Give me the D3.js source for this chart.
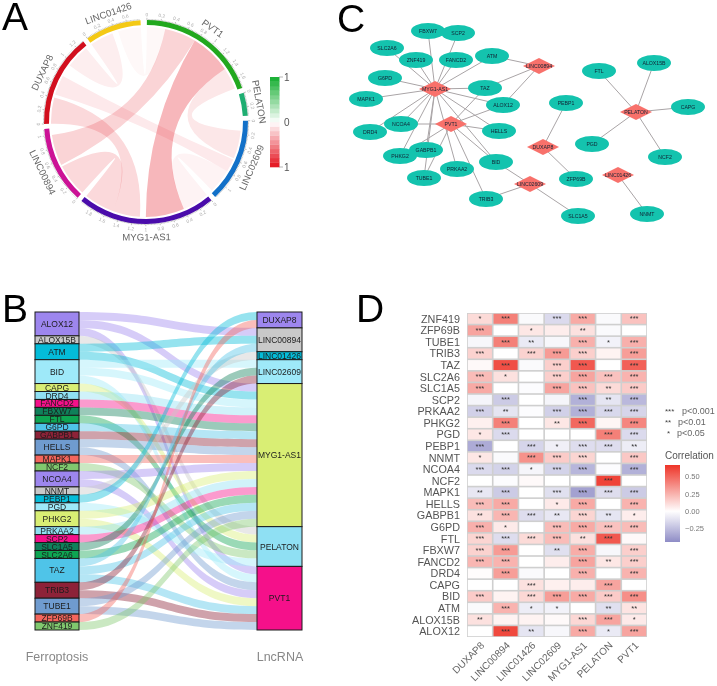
<!DOCTYPE html>
<html><head><meta charset="utf-8">
<script src="https://cdn.jsdelivr.net/npm/d3@7/dist/d3.min.js"></script>
<style>html,body{margin:0;padding:0;background:#fff}svg{display:block;font-family:"Liberation Sans",Arial,sans-serif}</style>
</head><body><svg id="c" width="717" height="686"></svg>
<script>
// ---------- A: chord ----------
const chordSectors = ["PVT1","PELATON","LINC02609","MYG1-AS1","LINC00894","DUXAP8","LINC01426"];
const chordTotals  = [1.75,0.33,1.2,1.98,1.1,1.33,0.8];
const chordColors  = ["#22a81e","#1fae72","#1270c8","#4a0cab","#cc1296","#d20f1e","#f4c915"];
// source sector, from, to, target sector, from, to, correlation
const chordLinks = [
 ["PVT1",0.0,0.28,"LINC01426",0.45,0.8,-0.03],
 ["DUXAP8",0.94,1.3,"LINC01426",0,0.36,-0.07],
 ["PVT1",1.39,1.72,"LINC02609",0.15,0.58,-0.1],
 ["DUXAP8",0.45,0.75,"LINC02609",0.6,0.8,-0.09],
 ["LINC02609",0.8,1.17,"MYG1-AS1",0,0.41,-0.05],
 ["DUXAP8",0,0.4,"MYG1-AS1",1.09,1.5,-0.16],
 ["LINC00894",0,0.5,"MYG1-AS1",1.5,1.97,-0.16],
 ["PVT1",0.28,0.76,"LINC00894",0.525,1.0,-0.18],
 ["PVT1",0.76,1.39,"MYG1-AS1",0.41,1.0,-0.3]
];
// ---------- B: alluvial ----------
const genes = ["ALOX12","ALOX15B","ATM","BID","CAPG","DRD4","FANCD2","FBXW7","FTL","G6PD","GABPB1","HELLS","MAPK1","NCF2","NCOA4","NNMT","PEBP1","PGD","PHKG2","PRKAA2","SCP2","SLC1A5","SLC2A6","TAZ","TRIB3","TUBE1","ZFP69B","ZNF419"];
const lncs = ["DUXAP8","LINC00894","LINC01426","LINC02609","MYG1-AS1","PELATON","PVT1"];
const palette = ["#9d86ee","#c9c9c9","#04bcd9","#9ee9f9","#d9ee74","#8fe0f3","#f5108a","#10805a","#0ea552","#4fc4e8","#8d2238","#6f9bcf","#f4655c","#80c86e"];
const pairs = [
 ["ALOX12","LINC00894"],["ALOX12","MYG1-AS1"],["ALOX12","PVT1"],["ALOX15B","PELATON"],["ATM","LINC00894"],["ATM","MYG1-AS1"],
 ["BID","LINC02609"],["BID","MYG1-AS1"],["BID","PVT1"],["CAPG","PELATON"],["DRD4","MYG1-AS1"],["FANCD2","MYG1-AS1"],["FBXW7","MYG1-AS1"],
 ["FTL","PELATON"],["G6PD","MYG1-AS1"],["GABPB1","MYG1-AS1"],["HELLS","MYG1-AS1"],["HELLS","PVT1"],["MAPK1","MYG1-AS1"],["NCF2","PELATON"],
 ["NCOA4","MYG1-AS1"],["NCOA4","PVT1"],["NNMT","LINC01426"],["PEBP1","DUXAP8"],["PGD","PELATON"],["PHKG2","MYG1-AS1"],["PHKG2","PVT1"],
 ["PRKAA2","MYG1-AS1"],["SCP2","MYG1-AS1"],["SLC1A5","LINC02609"],["SLC2A6","MYG1-AS1"],["TAZ","LINC00894"],["TAZ","MYG1-AS1"],["TAZ","PVT1"],
 ["TRIB3","LINC02609"],["TRIB3","PVT1"],["TUBE1","MYG1-AS1"],["TUBE1","PVT1"],["ZFP69B","DUXAP8"],["ZNF419","MYG1-AS1"]
];
// ---------- C: network ----------
const netGenes = [["FBXW7",98,31],["SCP2",128,33],["SLC2A6",57,48],["ZNF419",86,60],["FANCD2",126,60],["ATM",162,56],["G6PD",55,78],["TAZ",155,88],["MAPK1",36,99],["ALOX12",173,105],["NCOA4",71,124],["DRD4",40,132],["HELLS",169,131],["GABPB1",96,150],["PHKG2",70,156],["BID",166,162],["PRKAA2",127,169],["TUBE1",94,178],["TRIB3",156,199],["SLC1A5",248,216],["PEBP1",236,103],["ZFP69B",246,179],["FTL",269,71],["ALOX15B",324,63],["CAPG",358,107],["PGD",262,144],["NCF2",335,157],["NNMT",317,214]];
const netLncs = [["LINC00894",209,66],["MYG1-AS1",105,89],["PVT1",121,124],["LINC02609",200,184],["DUXAP8",213,147],["PELATON",306,112],["LINC01426",288,175]];
// ---------- D: heatmap ----------
const heatRows = ["ZNF419","ZFP69B","TUBE1","TRIB3","TAZ","SLC2A6","SLC1A5","SCP2","PRKAA2","PHKG2","PGD","PEBP1","NNMT","NCOA4","NCF2","MAPK1","HELLS","GABPB1","G6PD","FTL","FBXW7","FANCD2","DRD4","CAPG","BID","ATM","ALOX15B","ALOX12"];
const heatVals = [
[.12,.42,-.02,-.14,.28,-.02,.2],[.3,0,.08,.06,.1,-.02,0],[-.03,.42,-.08,-.03,.26,-.05,.26],[.15,0,.15,.33,.16,.04,.32],
[.02,.58,-.02,.16,.55,0,.52],[.22,.1,0,.16,.3,.2,.25],[.28,0,-.01,.3,.2,.12,.17],[-.04,-.2,0,-.04,-.3,-.1,-.27],
[-.18,-.1,-.01,-.18,-.3,-.15,-.16],[.05,.42,0,.08,.5,.03,.4],[.08,-.14,0,0,0,.42,-.14],[-.32,0,-.16,-.06,-.13,-.13,-.07],
[.08,-.02,.36,.17,.14,0,.18],[-.14,-.17,-.04,-.17,-.28,-.01,-.3],[0,-.01,.02,0,0,.62,0],[-.09,-.2,0,-.12,-.36,-.13,-.2],
[.22,.28,0,.07,.28,0,.25],[.1,.24,-.13,-.09,.14,-.1,.06],[.26,.07,0,.22,.28,.2,.22],[.14,-.13,.12,.22,.1,.55,.02],
[.15,.33,0,-.12,.27,-.03,.16],[.24,.25,0,.06,.3,.08,.16],[.01,.32,-.02,0,.26,0,.25],[0,0,.1,.05,.06,.3,0],
[.17,.04,.13,.32,.28,.17,.37],[-.02,.25,-.07,-.05,0,-.12,.09],[.1,.04,.04,.02,.13,.3,.07],[0,.6,-.1,-.03,.28,-.08,.3]];
const heatStars = [
[1,3,0,3,3,0,3],[3,0,1,0,2,0,0],[0,3,2,0,3,1,3],[3,0,3,3,3,0,3],[0,3,0,3,3,0,3],[3,1,0,3,3,3,3],[3,0,0,3,3,2,3],[0,3,0,0,3,2,3],
[3,2,0,3,3,3,3],[0,3,0,2,3,0,3],[1,3,0,0,0,3,3],[3,0,3,1,3,3,2],[1,0,3,3,3,0,3],[3,3,1,3,3,0,3],[0,0,0,0,0,3,0],[2,3,0,3,3,3,3],
[3,3,0,1,3,0,3],[2,3,3,2,3,2,1],[3,1,0,3,3,3,3],[3,3,3,3,2,3,0],[3,3,0,2,3,0,3],[3,3,0,0,3,2,3],[0,3,0,0,3,0,3],[0,0,3,0,0,3,0],
[3,0,3,3,3,3,3],[0,3,1,1,0,2,2],[2,0,0,0,3,3,1],[0,3,2,0,3,1,3]];
const legendBreaks = [0.5,0.25,0,-0.25];

const svg = d3.select("#c");
const gAll = svg.append("g").style("filter","blur(0.45px)");
const letters = [["A",2,30],["B",2,322],["C",337,32],["D",356,322]];
gAll.selectAll("text.l").data(letters).join("text").attr("class","l")
  .attr("x",d=>d[1]).attr("y",d=>d[2]).text(d=>d[0]).attr("font-size",39).attr("fill","#000");

// ========= A =========
(function(){
  const g = gAll.append("g").attr("transform","translate(146,122)");
  const rOut=102,rIn=97,rRib=95;
  const gap=2.8, unit=40; // degrees
  let a=0.5; const sec={};
  chordSectors.forEach((n,i)=>{
    const s=d3.scaleLinear().domain([0,chordTotals[i]]).range([a,a+chordTotals[i]*unit].map(v=>v*Math.PI/180));
    sec[n]={scale:s,color:chordColors[i],total:chordTotals[i]};
    a+=chordTotals[i]*unit+gap;
  });
  const col=d3.scaleLinear().domain([-1,0,1]).range(["#e4101c","#ffffff","#12ad2e"]);
  const ribbon=d3.ribbon().radius(rRib);
  g.selectAll("path.rib").data(chordLinks).join("path")
    .attr("d",d=>ribbon({source:{startAngle:sec[d[0]].scale(d[1]),endAngle:sec[d[0]].scale(d[2])},target:{startAngle:sec[d[3]].scale(d[4]),endAngle:sec[d[3]].scale(d[5])}}))
    .attr("fill",d=>col(d[6])).style("mix-blend-mode","multiply");
  const arc=d3.arc().innerRadius(rIn).outerRadius(rOut);
  chordSectors.forEach(n=>{
    const S=sec[n];
    g.append("path").attr("d",arc({startAngle:S.scale(0),endAngle:S.scale(S.total)})).attr("fill",S.color);
    const minor=d3.range(0,S.total,0.02);
    g.selectAll(null).data(minor).join("line")
      .attr("transform",v=>`rotate(${S.scale(v)*180/Math.PI})`)
      .attr("y1",-rOut).attr("y2",(v,i)=>-rOut-(i%10==0?2.2:1)).attr("stroke","#555").attr("stroke-width",.35);
    const maj=d3.range(0,S.total,0.2);
    g.selectAll(null).data(maj).join("text")
      .attr("transform",v=>{const d=S.scale(v)*180/Math.PI;return `rotate(${d}) translate(0,${-rOut-5.5})`+((d>90&&d<270)?" rotate(180)":"");})
      .attr("text-anchor","middle").attr("dy","0.35em").attr("font-size",4.8).attr("fill","#aaa")
      .text(v=>d3.format("~g")(+v.toFixed(1)));
    const mid=(S.scale(0)+S.scale(S.total))/2, dg=mid*180/Math.PI;
    const x=115*Math.sin(mid),y=-115*Math.cos(mid);
    const rot=(dg>90&&dg<270)?dg-180:dg;
    g.append("text").attr("transform",`translate(${x},${y}) rotate(${rot})`).attr("text-anchor","middle").attr("dy","0.35em")
      .attr("font-size",9.6).attr("fill","#666").text(n);
  });
  // legend
  const yL=d3.scaleLinear().domain([1,-1]).range([77,167]);
  gAll.selectAll("rect.lg").data(d3.range(-1,1,0.1)).join("rect").attr("class","lg")
    .attr("x",270).attr("width",9.5).attr("y",v=>yL(v+0.1)).attr("height",yL(0)-yL(0.1)+.3).attr("fill",v=>col(v+0.05));
  gAll.selectAll("text.lgt").data([[1,"1"],[0,"0"],[-1,"1"]]).join("text").attr("class","lgt")
    .attr("x",284).attr("y",d=>yL(d[0])).attr("dy","0.35em").attr("font-size",10).attr("fill","#555").text(d=>d[1]);
  gAll.selectAll("line.lgl").data([1,-1]).join("line").attr("class","lgl")
    .attr("x1",279).attr("x2",283).attr("y1",d=>yL(d)).attr("y2",d=>yL(d)).attr("stroke","#888").attr("stroke-width",.6);
})();

// ========= B =========
(function(){
  const y=d3.scaleLinear().domain([0,pairs.length]).range([312,630]);
  const xL=[35,79], xR=[257,302];
  const colL=d3.scaleOrdinal().domain(genes).range(palette);
  const colR=d3.scaleOrdinal().domain(lncs).range(palette);
  const layout=(names,idx)=>{let c=0,nodes={};names.forEach(n=>{const k=pairs.filter(p=>p[idx]===n).length;nodes[n]={start:c,end:c+k,pos:c};c+=k;});return nodes;};
  const L=layout(genes,0),R=layout(lncs,1);
  const flows=pairs.map(p=>{const a=L[p[0]].pos++,b=R[p[1]].pos++;return {g:p[0],a,b};});
  const xm=(xL[1]+xR[0])/2;
  const band=f=>{const p=d3.path();
    p.moveTo(xL[1],y(f.a));p.bezierCurveTo(xm,y(f.a),xm,y(f.b),xR[0],y(f.b));
    p.lineTo(xR[0],y(f.b+1));p.bezierCurveTo(xm,y(f.b+1),xm,y(f.a+1),xL[1],y(f.a+1));p.closePath();return p.toString();};
  gAll.append("g").selectAll("path").data(flows).join("path").attr("d",band)
    .attr("fill",d=>colL(d.g)).attr("fill-opacity",.42);
  const draw=(names,nodes,x,col)=>{
    const g=gAll.append("g").selectAll("g").data(names).join("g");
    g.append("rect").attr("x",x[0]).attr("width",x[1]-x[0]).attr("y",n=>y(nodes[n].start)).attr("height",n=>y(nodes[n].end)-y(nodes[n].start))
      .attr("fill",n=>col(n)).attr("stroke","#1a1a1a").attr("stroke-width",1);
    g.append("text").attr("x",(x[0]+x[1])/2).attr("y",n=>(y(nodes[n].start)+y(nodes[n].end))/2).attr("dy","0.36em")
      .attr("text-anchor","middle").attr("font-size",8.5).attr("fill","#1c1c1c").text(n=>n);
  };
  draw(genes,L,xL,colL);draw(lncs,R,xR,colR);
  gAll.selectAll("text.ax").data([["Ferroptosis",57],["LncRNA",280]]).join("text").attr("class","ax")
    .attr("x",d=>d[1]).attr("y",661).attr("text-anchor","middle").attr("font-size",12.5).attr("fill","#888").text(d=>d[0]);
})();

// ========= C =========
(function(){
  const X=d3.scaleLinear().domain([0,387]).range([330,717]), Y=d3.scaleLinear().domain([0,250]).range([0,250]);
  const pos={};netGenes.concat(netLncs).forEach(d=>pos[d[0]]=d);
  const g=gAll.append("g");
  g.selectAll("line").data(pairs).join("line")
    .attr("x1",d=>X(pos[d[0]][1])).attr("y1",d=>Y(pos[d[0]][2])).attr("x2",d=>X(pos[d[1]][1])).attr("y2",d=>Y(pos[d[1]][2]))
    .attr("stroke","#a9a4a6").attr("stroke-width",1);
  g.selectAll("ellipse").data(netGenes).join("ellipse").attr("cx",d=>X(d[1])).attr("cy",d=>Y(d[2])).attr("rx",17).attr("ry",8).attr("fill","#14c3ae");
  g.selectAll("path").data(netLncs).join("path").attr("transform",d=>`translate(${X(d[1])},${Y(d[2])})`)
    .attr("d","M-16,0L0,-8L16,0L0,8Z").attr("fill","#f8716b");
  g.selectAll("text").data(netGenes.concat(netLncs)).join("text").attr("x",d=>X(d[1])).attr("y",d=>Y(d[2])).attr("dy","0.35em")
    .attr("text-anchor","middle").attr("font-size",5.2).attr("fill","#123").text(d=>d[0]);
})();

// ========= D =========
(function(){
  const x=d3.scaleBand().domain(lncs).range([467,647]);
  const y=d3.scaleBand().domain(heatRows).range([313,637]);
  const col=d3.scaleLinear().domain([-0.44,0,0.67]).range(["#8e8cc6","#ffffff","#ee3428"]);
  const g=gAll.append("g");
  g.append("rect").attr("x",467).attr("y",313).attr("width",180).attr("height",324).attr("fill","#cfcfcf");
  const cells=[];heatRows.forEach((r,i)=>lncs.forEach((c,j)=>cells.push({r,c,v:heatVals[i][j],s:heatStars[i][j]})));
  g.selectAll("rect.c").data(cells).join("rect").attr("class","c")
    .attr("x",d=>x(d.c)+.8).attr("y",d=>y(d.r)+.8).attr("width",x.bandwidth()-1.6).attr("height",y.bandwidth()-1.6).attr("fill",d=>col(d.v));
  g.selectAll("text.s").data(cells.filter(d=>d.s>0)).join("text").attr("class","s")
    .attr("x",d=>x(d.c)+x.bandwidth()/2).attr("y",d=>y(d.r)+y.bandwidth()/2+2.6).attr("text-anchor","middle")
    .attr("font-size",7.5).attr("fill","#333").text(d=>"*".repeat(d.s));
  g.selectAll("text.r").data(heatRows).join("text").attr("class","r")
    .attr("x",460).attr("y",d=>y(d)+y.bandwidth()/2).attr("dy","0.36em").attr("text-anchor","end")
    .attr("font-size",10.8).attr("fill","#555").text(d=>d);
  g.selectAll("text.col").data(lncs).join("text").attr("class","col")
    .attr("transform",d=>`translate(${x(d)+x.bandwidth()/2+5},646) rotate(-45)`).attr("text-anchor","end")
    .attr("font-size",10).attr("fill","#666").text(d=>d);
  g.selectAll("text.st").data([["***","p<0.001",665,682,414],["**","p<0.01",665,678,425],["*","p<0.05",668,677,436]]).join("text").attr("class","st")
    .attr("x",d=>d[3]).attr("y",d=>d[4]).attr("font-size",9).attr("fill","#666").text(d=>d[1]);
  g.selectAll("text.stt").data([["***",665,414],["**",665,425],["*",667,436]]).join("text").attr("class","stt")
    .attr("x",d=>d[1]).attr("y",d=>d[2]).attr("font-size",8).attr("fill","#444").text(d=>d[0]);
  g.append("text").attr("x",665).attr("y",459).attr("font-size",10).attr("fill","#555").text("Correlation");
  const yL=d3.scaleLinear().domain([0.67,-0.44]).range([465,542]);
  const grad=svg.append("defs").append("linearGradient").attr("id","lg").attr("x1",0).attr("x2",0).attr("y1",0).attr("y2",1);
  d3.range(0,1.01,0.1).forEach(t=>grad.append("stop").attr("offset",t).attr("stop-color",col(yL.domain()[0]+t*(yL.domain()[1]-yL.domain()[0]))));
  g.append("rect").attr("x",665).attr("y",465).attr("width",15).attr("height",77).attr("fill","url(#lg)");
  g.selectAll("text.b").data(legendBreaks).join("text").attr("class","b").attr("x",685).attr("y",d=>yL(d)).attr("dy","0.35em")
    .attr("font-size",7.5).attr("fill","#777").text(d=>(d<0?"\u2212":"")+Math.abs(d).toFixed(2));
})();
</script></body></html>
